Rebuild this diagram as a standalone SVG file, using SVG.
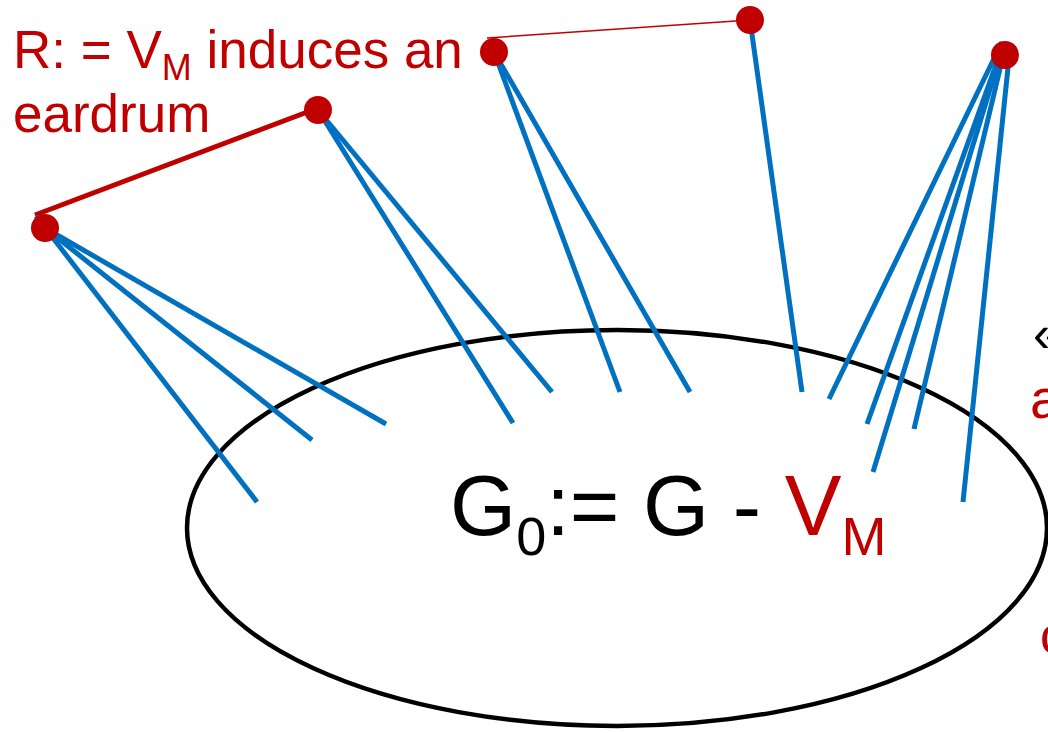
<svg xmlns="http://www.w3.org/2000/svg" width="1048" height="733" viewBox="0 0 1048 733">
<style>
.edge{stroke:#0070C0;stroke-width:5;fill:none}
.red{stroke:#C00000;fill:none}
.dot{fill:#C00000}
.t{font-family:"Liberation Sans",Arial,sans-serif}
</style>
<rect width="1048" height="733" fill="#fff"/>
<g id="set-G0">
<ellipse cx="617" cy="528" rx="430" ry="198" fill="none" stroke="#000" stroke-width="4.5"/>
<text class="t" x="450" y="535" font-size="85" fill="#000">G<tspan font-size="54" dy="20">0</tspan><tspan dy="-20">:= G - </tspan><tspan fill="#C00000">V</tspan><tspan fill="#C00000" font-size="54" dy="20">M</tspan></text>
</g>
<g id="connectors">
<line class="red" stroke-width="5" x1="35" y1="215" x2="318" y2="108"/>
<line class="red" stroke-width="1.5" x1="487" y1="38" x2="750" y2="20"/>
<line class="edge" x1="36" y1="216" x2="257" y2="502"/>
<line class="edge" x1="45" y1="228" x2="312" y2="440"/>
<line class="edge" x1="45" y1="228" x2="386" y2="424"/>
<line class="edge" x1="318" y1="110" x2="513" y2="423"/>
<line class="edge" x1="318" y1="110" x2="552" y2="392"/>
<line class="edge" x1="494" y1="52" x2="620" y2="392"/>
<line class="edge" x1="494" y1="52" x2="690" y2="392"/>
<line class="edge" x1="750" y1="20" x2="802" y2="392"/>
<line class="edge" x1="1002" y1="42" x2="829" y2="399"/>
<line class="edge" x1="1002" y1="48" x2="867" y2="424"/>
<line class="edge" x1="1002" y1="50" x2="873" y2="472"/>
<line class="edge" x1="1004" y1="52" x2="914" y2="429"/>
<line class="edge" x1="1009" y1="58" x2="963" y2="502"/>
</g>
<g id="node-r1"><circle class="dot" cx="45" cy="228" r="14"/></g>
<g id="node-r2"><circle class="dot" cx="318" cy="110" r="14"/></g>
<g id="node-r3"><circle class="dot" cx="494" cy="52" r="14"/></g>
<g id="node-r4"><circle class="dot" cx="750" cy="20" r="14"/></g>
<g id="node-r5"><circle class="dot" cx="1005" cy="55" r="14"/></g>
<g id="label-R">
<text class="t" x="13" y="68" font-size="53" fill="#C00000">R: = V<tspan font-size="36" dy="12">M</tspan><tspan dy="-12"> induces an</tspan></text>
<text class="t" x="13" y="132" font-size="53" fill="#C00000">eardrum</text>
</g>
<g id="label-right">
<text class="t" x="1033" y="352" font-size="52" fill="#000">«</text>
<text class="t" x="1030" y="418" font-size="56" fill="#C00000">a</text>
<text class="t" x="1040" y="653" font-size="52" fill="#C00000">c</text>
</g>
</svg>
